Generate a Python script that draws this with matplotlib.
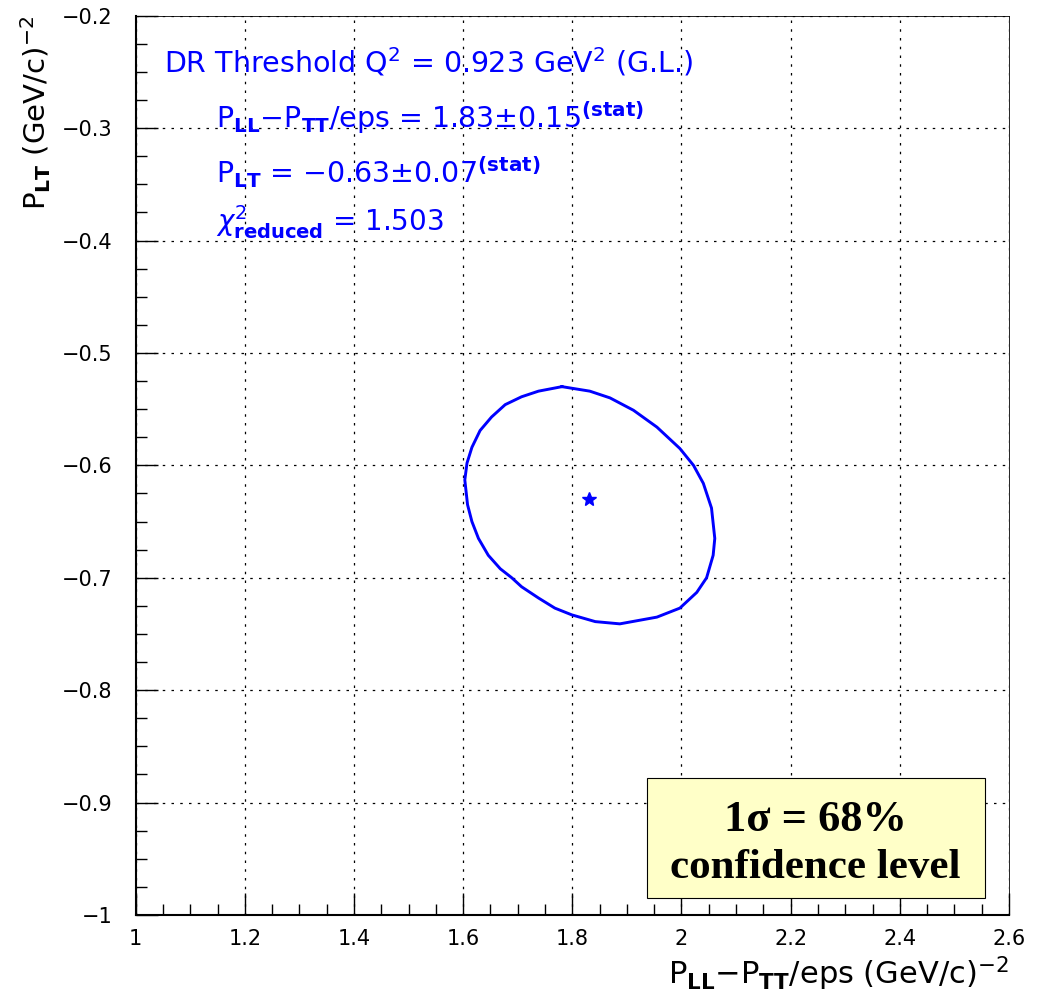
import matplotlib.pyplot as plt
from matplotlib.patches import Rectangle
from matplotlib.ticker import MultipleLocator

plt.rcParams['font.family'] = ['DejaVu Sans']
plt.rcParams['mathtext.fontset'] = 'dejavusans'

# best fit point
fit_x = 1.83
fit_y = -0.63

# 1 sigma contour (clockwise from the top)
contour_x = [1.781, 1.832, 1.869, 1.912, 1.955, 1.997, 2.022, 2.040, 2.055, 2.061,
             2.058, 2.046, 2.028, 1.997, 1.955, 1.887, 1.842, 1.799, 1.768, 1.738,
             1.707, 1.689, 1.668, 1.646, 1.628, 1.616, 1.608, 1.603, 1.607, 1.616,
             1.631, 1.652, 1.677, 1.707, 1.738, 1.781]
contour_y = [-0.530, -0.534, -0.540, -0.551, -0.566, -0.585, -0.600, -0.616, -0.638, -0.665,
             -0.680, -0.700, -0.713, -0.727, -0.735, -0.741, -0.739, -0.733, -0.727, -0.718,
             -0.708, -0.700, -0.692, -0.680, -0.665, -0.650, -0.635, -0.613, -0.598, -0.584,
             -0.569, -0.557, -0.546, -0.539, -0.534, -0.530]

blue = '#0000ff'

fig = plt.figure(figsize=(10.39, 9.92), dpi=100)
ax = fig.add_axes([0.1306, 0.0776, 0.8405, 0.9066])

ax.plot(contour_x, contour_y, color=blue, lw=2.1, zorder=3, solid_joinstyle='round')
ax.plot([fit_x], [fit_y], marker='*', color=blue, markersize=10, ls='none', zorder=4)

ax.set_xlim(1, 2.6)
ax.set_ylim(-1, -0.2)
ax.xaxis.set_major_locator(MultipleLocator(0.2))
ax.xaxis.set_minor_locator(MultipleLocator(0.05))
ax.yaxis.set_major_locator(MultipleLocator(0.1))
ax.yaxis.set_minor_locator(MultipleLocator(0.025))
ax.xaxis.set_major_formatter(plt.FuncFormatter(lambda v, p: f"{v:g}"))
ax.yaxis.set_major_formatter(plt.FuncFormatter(lambda v, p: f"{v:g}".replace('-', '\u2212')))
ax.tick_params(which='both', direction='in', labelsize=15, width=1)
ax.tick_params(which='major', length=16)
ax.tick_params(which='minor', length=8)
ax.tick_params(axis='x', pad=10)
ax.tick_params(axis='y', pad=17)
ax.grid(True, which='major', color='black', linestyle=(0, (2, 5)), lw=0.9)
for s in ['top', 'right']:
    ax.spines[s].set_linewidth(0.6)
for s in ['left', 'bottom']:
    ax.spines[s].set_linewidth(1.5)

ax.set_xlabel(r'P$_{\mathbf{LL}}$$-$P$_{\mathbf{TT}}$/eps (GeV/c)$^{-2}$', fontsize=22, loc='right', labelpad=4)
ax.set_ylabel(r'P$_{\mathbf{LT}}$ (GeV/c)$^{-2}$', fontsize=21, loc='top', labelpad=6)

# fit results
ax.text(0.032, 0.948, r'DR Threshold Q$^2$ = 0.923 GeV$^2$ (G.L.)', transform=ax.transAxes,
        color=blue, fontsize=20.5, va='center')
ax.text(0.092, 0.887, r'P$_{\mathbf{LL}}$$-$P$_{\mathbf{TT}}$/eps = 1.83$\pm$0.15$^{\mathbf{(stat)}}$',
        transform=ax.transAxes, color=blue, fontsize=20.5, va='center')
ax.text(0.092, 0.826, r'P$_{\mathbf{LT}}$ = $-$0.63$\pm$0.07$^{\mathbf{(stat)}}$',
        transform=ax.transAxes, color=blue, fontsize=20.5, va='center')
ax.text(0.092, 0.770, r'$\chi^2_{\mathbf{reduced}}$ = 1.503',
        transform=ax.transAxes, color=blue, fontsize=20, va='center')

# confidence level box
ax.add_patch(Rectangle((0.585, 0.019), 0.387, 0.133, transform=ax.transAxes,
                       facecolor='#ffffc8', edgecolor='black', lw=0.8, zorder=5))
ax.text(0.7785, 0.106, '1\u03c3 = 68%', transform=ax.transAxes, ha='center', va='center',
        fontsize=32, fontweight='bold', family='Liberation Serif', zorder=6)
ax.text(0.7785, 0.052, 'confidence level', transform=ax.transAxes, ha='center', va='center',
        fontsize=31, fontweight='bold', family='Liberation Serif', zorder=6)

fig.savefig('out.png', dpi=100)
